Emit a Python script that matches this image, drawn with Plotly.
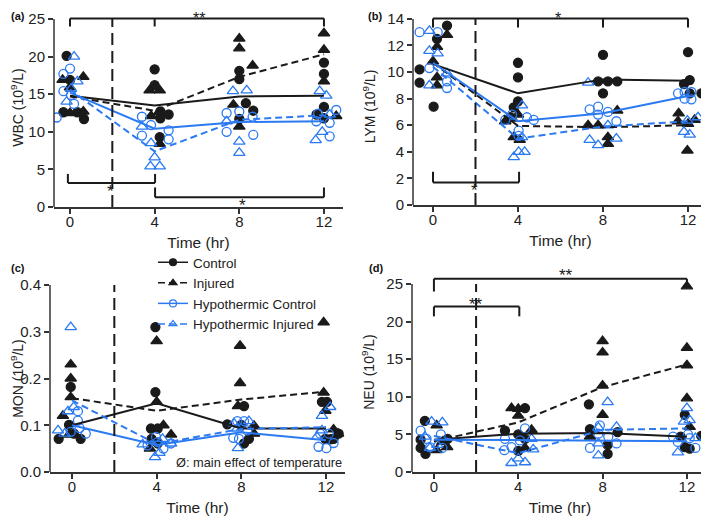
import plotly.graph_objects as go

times = [0, 4, 8, 12]
groups = ["Control", "Injured", "Hypothermic Control", "Hypothermic Injured"]

# (a) WBC: values per time point and horizontal jitter of each dot
wbc_ctrl = [[20.1, 16.9, 12.6, 12.6, 11.7], [18.3, 16.2, 12.7, 12.3, 11.8, 9.3],
            [18.1, 17.0, 13.8, 12.8, 11.7], [19.2, 17.7, 13.3, 12.3, 11.8]]
wbc_ctrl_dx = [[-0.16, 0.0, -0.31, 0.35, 0.66], [0.0, 0.0, 0.27, 0.66, 0.27, 0.24],
               [0.0, 0.0, 0.31, 0.66, 0.0], [0.0, 0.0, 0.0, -0.35, 0.0]]
wbc_inj = [[16.9, 17.3, 15.9, 12.5, 12.7], [15.5, 15.5, 12.1, 12.6, 8.4],
           [22.4, 21.1, 18.8, 13.6, 10.7], [23.1, 20.9, 16.7, 12.1]]
wbc_inj_dx = [[-0.35, 0.63, 0.0, 0.0, 0.63], [-0.24, 0.24, -0.17, 0.2, 0.24],
              [0.0, 0.0, 0.63, -0.28, 0.0], [0.0, 0.0, 0.0, 0.58]]
wbc_hc = [[17.7, 18.4, 15.4, 14.9, 13.7, 11.9], [12.0, 10.9, 9.5, 10.2, 9.0],
          [12.5, 10.0, 12.7, 12.0, 9.6], [11.4, 11.2, 9.4, 12.9, 12.4]]
wbc_hc_dx = [[-0.31, 0.0, -0.31, 0.05, 0.19, -0.63], [-0.6, -0.17, -0.6, 0.66, 0.66],
             [-0.6, -0.6, 0.0, 0.63, 0.66], [-0.36, 0.27, 0.27, 0.58, -0.28]]
wbc_hi = [[20.0, 16.7, 15.7, 14.0], [10.7, 8.5, 6.6, 5.4, 5.4],
          [15.4, 15.5, 8.7, 7.2, 11.4], [15.4, 14.8, 10.0, 8.9, 12.3]]
wbc_hi_dx = [[0.19, 0.35, 0.05, -0.16], [-0.6, -0.17, 0.0, -0.2, 0.24],
             [-0.3, 0.35, 0.0, 0.0, -0.6], [-0.2, 0.11, -0.08, -0.39, 0.27]]
wbc_means = [[14.8, 13.5, 14.7, 14.8], [14.7, 12.8, 17.3, 20.3],
             [15.2, 10.4, 11.3, 11.4], [15.6, 7.4, 11.6, 12.2]]

# (b) LYM
lym_ctrl = [[10.2, 9.2, 7.4, 12.5, 13.5], [10.7, 9.6, 7.8, 7.35, 6.6],
            [11.3, 8.4, 9.3, 9.3, 9.3], [11.5, 9.4, 9.1, 8.4, 8.4]]
lym_ctrl_dx = [[-0.63, -0.63, 0.03, 0.19, 0.66], [0.0, 0.0, 0.0, -0.2, -0.36],
               [0.0, 0.0, -0.23, 0.23, 0.67], [0.0, 0.08, -0.19, 0.08, 0.63]]
lym_inj = [[12.8, 11.9, 10.8, 9.6, 9.0], [6.8, 6.5, 5.1, 4.9, 6.3],
           [6.0, 6.0, 7.1, 5.1, 4.6], [4.1, 6.4, 6.3, 6.9, 6.1]]
lym_inj_dx = [[0.66, 0.19, 0.0, 0.19, 0.19], [0.0, -0.28, -0.2, 0.08, -0.6],
              [-0.7, -0.23, 0.67, 0.23, 0.23], [-0.03, 0.31, -0.47, -0.44, 0.0]]
lym_hc = [[13.0, 13.0, 10.3, 9.3, 8.8], [6.4, 5.6, 6.6, 6.4, 5.2, 6.8],
          [7.2, 7.4, 6.8, 7.0, 6.3], [8.4, 8.5, 8.5, 8.0, 7.95]]
lym_hc_dx = [[-0.63, 0.22, -0.17, 0.66, 0.66], [-0.6, 0.03, 0.42, 0.74, 0.03, -0.28],
             [-0.63, -0.23, -0.23, 0.23, 0.63], [-0.47, -0.16, 0.16, -0.16, 0.16]]
lym_hi = [[13.1, 11.6, 11.4, 9.0, 9.9], [7.5, 3.6, 4.0, 4.0, 5.1],
          [9.2, 4.9, 4.5, 5.0, 6.0], [5.5, 5.3, 6.6, 6.35]]
lym_hi_dx = [[-0.17, -0.17, 0.22, -0.17, 0.66], [0.19, -0.2, 0.03, 0.31, 0.19],
             [-0.7, -0.63, -0.23, 0.63, 0.23], [-0.19, 0.08, 0.47, -0.03]]
lym_means = [[10.6, 8.4, 9.45, 9.35], [10.7, 5.95, 5.85, 6.0],
             [10.7, 6.3, 6.9, 8.2], [10.4, 5.0, 5.9, 6.3]]

# (c) MON
mon_ctrl = [[0.071, 0.071, 0.101, 0.082, 0.182], [0.31, 0.171, 0.093, 0.093, 0.071, 0.061],
            [0.102, 0.101, 0.141, 0.061, 0.071], [0.15, 0.15, 0.071, 0.071, 0.082, 0.07]]
mon_ctrl_dx = [[-0.63, 0.41, -0.14, 0.09, -0.06], [-0.06, -0.06, -0.27, 0.05, -0.24, 0.05],
               [-0.66, 0.0, 0.13, 0.13, 0.36], [-0.19, 0.05, 0.36, -0.03, 0.6, 0.2]]
mon_inj = [[0.23, 0.20, 0.16, 0.12, 0.08], [0.28, 0.15, 0.10, 0.08, 0.05],
           [0.27, 0.19, 0.141, 0.082, 0.099], [0.32, 0.17, 0.131, 0.091, 0.082]]
mon_inj_dx = [[-0.06, -0.06, -0.06, -0.43, -0.14], [0.0, 0.0, 0.32, 0.68, -0.32],
              [-0.06, -0.06, -0.16, 0.6, 0.6], [-0.11, -0.11, -0.03, 0.36, 0.57]]
mon_hc = [[0.11, 0.094, 0.082, 0.086, 0.13], [0.064, 0.05, 0.061, 0.057, 0.075],
          [0.073, 0.071, 0.109, 0.109, 0.089], [0.054, 0.051, 0.062, 0.082, 0.082]]
mon_hc_dx = [[0.28, 0.36, 0.65, -0.06, 0.28], [0.05, 0.32, 0.68, -0.43, -0.03],
             [-0.38, -0.11, -0.19, 0.13, 0.28], [-0.35, 0.02, 0.36, -0.27, 0.13]]
mon_hi = [[0.31, 0.139, 0.13, 0.089, 0.082], [0.032, 0.041, 0.059, 0.071, 0.061],
          [0.051, 0.104, 0.109, 0.093], [0.12, 0.139, 0.075, 0.089]]
mon_hi_dx = [[-0.06, 0.08, -0.19, -0.66, -0.35], [-0.08, 0.13, -0.66, 0.28, 0.68],
             [-0.16, -0.35, 0.36, -0.19], [-0.19, 0.2, -0.43, -0.19]]
mon_means = [[0.10, 0.147, 0.093, 0.093], [0.158, 0.131, 0.155, 0.172],
             [0.10, 0.058, 0.085, 0.068], [0.153, 0.06, 0.092, 0.096]]

# (d) NEU
neu_ctrl = [[6.8, 4.3, 3.2, 2.4, 4.4], [8.5, 5.5, 5.0, 4.4, 2.8],
            [5.7, 9.0, 2.4, 3.6, 5.3], [7.6, 4.8, 3.3, 3.1, 4.7]]
neu_ctrl_dx = [[-0.43, -0.63, -0.63, -0.4, 0.65], [0.32, -0.63, 0.0, 0.32, 0.0],
               [-0.6, -0.65, 0.24, 0.24, 0.71], [-0.1, 0.68, -0.1, 0.13, -0.3]]
neu_inj = [[6.2, 2.9, 3.3, 4.0], [8.5, 8.4, 7.5, 5.6, 3.2],
           [17.4, 15.9, 11.5, 7.6, 4.7], [24.7, 16.5, 14.2, 9.8, 6.0]]
neu_inj_dx = [[0.13, 0.13, 0.63, 0.4], [-0.32, 0.0, 0.0, 0.63, 0.32],
              [0.0, 0.0, 0.0, 0.0, -0.6], [0.0, 0.0, 0.0, 0.0, 0.13]]
neu_hc = [[5.5, 4.4, 5.0, 3.2, 3.3], [4.4, 3.3, 4.2, 5.8, 2.9],
          [3.2, 5.1, 4.7, 3.8, 6.2], [4.0, 4.5, 3.2, 4.7, 5.0]]
neu_hc_dx = [[-0.63, -0.35, 0.33, 0.4, -0.19], [-0.63, -0.32, 0.08, 0.32, -0.66],
             [-0.6, -0.2, 0.27, 0.66, -0.13], [-0.43, 0.13, 0.4, -0.66, 0.05]]
neu_hi = [[6.7, 6.6, 4.7, 3.2, 3.6], [1.2, 1.8, 1.3, 4.4, 3.0],
          [9.3, 5.9, 6.0, 2.2, 3.8], [8.5, 6.7, 6.9, 2.6, 4.5]]
neu_hi_dx = [[-0.11, 0.4, -0.43, -0.19, 0.16], [-0.32, 0.0, 0.32, 0.63, 0.71],
             [0.24, -0.2, 0.66, -0.2, -0.2], [0.0, -0.14, 0.13, -0.43, 0.4]]
neu_means = [[4.3, 5.1, 5.2, 4.7], [4.1, 6.6, 11.3, 14.3],
             [4.3, 4.2, 4.2, 4.1], [4.8, 2.5, 5.6, 5.8]]

BLUE = "#2b7af2"
INK = "#1a1a1a"
styles = [
    dict(symbol="circle", color=INK, dash="solid", size=9),
    dict(symbol="triangle-up", color=INK, dash="7px,4px", size=10),
    dict(symbol="circle-open", color=BLUE, dash="solid", size=9),
    dict(symbol="triangle-up-open", color=BLUE, dash="7px,4px", size=10),
]


def dots(vals, dx):
    xs, ys = [], []
    for t, v, d in zip(times, vals, dx):
        xs += [t + o for o in d]
        ys += v
    return xs, ys


panels = [
    ("x", "y", [wbc_ctrl, wbc_inj, wbc_hc, wbc_hi],
     [wbc_ctrl_dx, wbc_inj_dx, wbc_hc_dx, wbc_hi_dx], wbc_means),
    ("x2", "y2", [lym_ctrl, lym_inj, lym_hc, lym_hi],
     [lym_ctrl_dx, lym_inj_dx, lym_hc_dx, lym_hi_dx], lym_means),
    ("x3", "y3", [mon_ctrl, mon_inj, mon_hc, mon_hi],
     [mon_ctrl_dx, mon_inj_dx, mon_hc_dx, mon_hi_dx], mon_means),
    ("x4", "y4", [neu_ctrl, neu_inj, neu_hc, neu_hi],
     [neu_ctrl_dx, neu_inj_dx, neu_hc_dx, neu_hi_dx], neu_means),
]

fig = go.Figure()
for xa, ya, series, jit, means in panels:
    for vals, dx, st in zip(series, jit, styles):
        xs, ys = dots(vals, dx)
        fig.add_trace(go.Scatter(
            x=xs, y=ys, xaxis=xa, yaxis=ya, mode="markers", showlegend=False,
            marker=dict(symbol=st["symbol"], size=st["size"], color=st["color"],
                        line=dict(color=st["color"], width=1.3)),
            hoverinfo="skip"))
    for m, st in zip(means, styles):
        fig.add_trace(go.Scatter(
            x=times, y=m, xaxis=xa, yaxis=ya, mode="lines", showlegend=False,
            line=dict(color=st["color"], width=2, dash=st["dash"])))

# legend entries (line + marker)
for name, st in zip(groups, styles):
    fig.add_trace(go.Scatter(
        x=[None], y=[None], xaxis="x3", yaxis="y3", mode="lines+markers", name=name,
        marker=dict(symbol=st["symbol"], size=7, color=st["color"],
                    line=dict(color=st["color"], width=1.2)),
        line=dict(color=st["color"], width=1.5, dash=st["dash"])))

# the page body adds an 8 px offset, so the figure is 8 px smaller than the window
OFF = 8
W, H = 709 - OFF, 517 - OFF


def px(x):
    return (x - OFF) / W


def py(y):
    return 1 - (y - OFF) / H


axfont = dict(family="Liberation Sans, Arial, sans-serif", size=15, color="#222")


def xaxis(left, right, lo, hi, anchor):
    return dict(domain=[px(left), px(right)], range=[lo, hi], anchor=anchor,
                tickvals=times, ticks="outside", ticklen=5, tickwidth=1.5,
                tickcolor="#333", showline=True, linecolor="#333", linewidth=1.5,
                showgrid=False, zeroline=False, tickfont=axfont, automargin=False,
                ticklabelstandoff=-5,
                title=dict(text="Time (hr)", font=dict(size=15.5, color="#222"), standoff=8))


def yaxis(bottom, top, hi, tickvals, title, anchor, fmt=None):
    d = dict(domain=[py(bottom), py(top)], range=[0, hi], anchor=anchor,
             tickvals=tickvals, ticks="outside", ticklen=5, tickwidth=1.5,
             tickcolor="#333", showline=False, showgrid=False, zeroline=False,
             tickfont=axfont, automargin=False,
             title=dict(text=title, font=dict(size=14, color="#222"), standoff=8))
    if fmt:
        d["tickformat"] = fmt
    return d


shapes = []
annotations = []


def seg(xa, ya, x0, y0, x1, y1, dash="solid", width=2):
    shapes.append(dict(type="line", xref=xa, yref=ya, x0=x0, y0=y0, x1=x1, y1=y1,
                       line=dict(color=INK, width=width, dash=dash)))


def bracket(xa, ya, x0, x1, y, y_end, mids=(), y_mid=None):
    seg(xa, ya, x0, y, x1, y)
    seg(xa, ya, x0, y, x0, y_end)
    seg(xa, ya, x1, y, x1, y_end if y_mid is None else y_mid)
    for m in mids:
        seg(xa, ya, m, y, m, y_end)


def star(xa, ya, x, y, text, size=17):
    annotations.append(dict(xref=xa, yref=ya, x=x, y=y, text=text, showarrow=False,
                            font=dict(size=size, color=INK), yanchor="middle"))


tops = [25, 14, 0.4, 25]
for (xa, ya, *_), top in zip(panels, tops):
    # y axis line stops at the top tick
    shapes.append(dict(type="line", xref=xa + " domain", yref=ya, x0=0, x1=0, y0=0, y1=top,
                       line=dict(color="#333", width=1.5)))
    # vertical dashed line at 2 h
    seg(xa, ya, 2, 0, 2, top, dash="12px,6px", width=2)

# (a)
bracket("x", "y", 0, 12, 25.07, 24.0, mids=[4])
star("x", "y", 6.1, 25.07, "**", size=16)
bracket("x", "y", -0.1, 4.02, 3.2, 4.4)
star("x", "y", 1.92, 2.1, "*")
bracket("x", "y", 4.02, 12, 1.3, 2.6)
star("x", "y", 8.15, 0.2, "*")
# (b)
bracket("x2", "y2", 0, 12, 14.03, 13.35, mids=[4, 8])
star("x2", "y2", 5.9, 14.03, "*", size=16)
bracket("x2", "y2", 0, 4.05, 1.7, 2.5)
star("x2", "y2", 1.95, 1.1, "*")
# (d)
bracket("x4", "y4", 0, 12, 25.7, 24.0, y_mid=25.1)
star("x4", "y4", 6.25, 26.1, "**")
bracket("x4", "y4", 0, 4.05, 22.0, 20.7)
star("x4", "y4", 2.0, 22.3, "**")

annotations.append(dict(xref="x3", yref="y3", x=12.85, y=0.021, xanchor="right",
                        yanchor="middle", showarrow=False,
                        text="Ø: main effect of temperature",
                        font=dict(size=12.8, color="#222")))

for lab, lx, ly in [("(a)", 9, 16), ("(b)", 366, 16), ("(c)", 9, 268), ("(d)", 367, 268)]:
    annotations.append(dict(xref="paper", yref="paper", x=px(lx), y=py(ly),
                            xanchor="left", yanchor="middle", showarrow=False,
                            text="<b>%s</b>" % lab, font=dict(size=11, color="#111")))

fig.update_layout(
    width=W, height=H, margin=dict(l=0, r=0, t=0, b=0),
    paper_bgcolor="white", plot_bgcolor="white",
    font=dict(family="Liberation Sans, Arial, sans-serif", color="#222"),
    xaxis=xaxis(54, 343, -0.756, 12.9, "y"),
    yaxis=yaxis(207, 8, 26.46, [0, 5, 10, 15, 20, 25], "WBC (10<sup>9</sup>/L)", "x"),
    xaxis2=xaxis(413, 708, -0.94, 12.94, "y2"),
    yaxis2=yaxis(205, 8, 14.82, [0, 2, 4, 6, 8, 10, 12, 14], "LYM (10<sup>9</sup>/L)", "x2"),
    xaxis3=xaxis(50, 345, -1.04, 12.9, "y3"),
    yaxis3=yaxis(472, 285, 0.4, [0, 0.1, 0.2, 0.3, 0.4], "MON (10<sup>9</sup>/L)", "x3", ".1f"),
    xaxis4=xaxis(412, 708, -1.04, 13.0, "y4"),
    yaxis4=yaxis(472, 272, 26.6, [0, 5, 10, 15, 20, 25], "NEU (10<sup>9</sup>/L)", "x4"),
    shapes=shapes, annotations=annotations,
    legend=dict(x=px(153), y=py(247), xanchor="left", yanchor="top",
                bgcolor="rgba(0,0,0,0)", font=dict(size=13.5, color="#222"),
                itemwidth=30, tracegroupgap=0),
)

fig.write_html("out.html")
